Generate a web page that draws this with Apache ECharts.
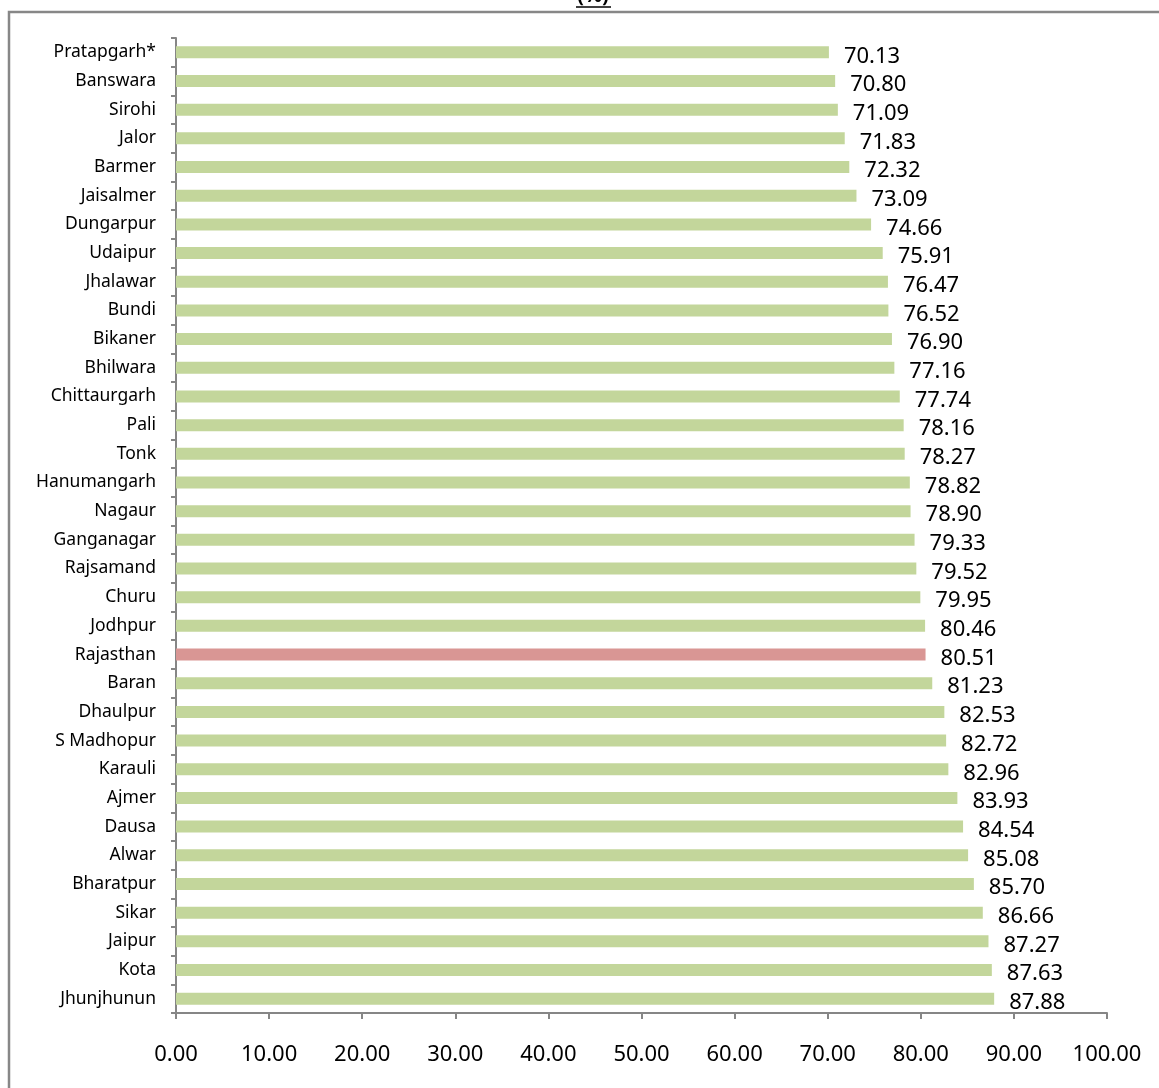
<!DOCTYPE html>
<html><head><meta charset="utf-8">
<script src="https://cdn.jsdelivr.net/npm/echarts@6/dist/echarts.min.js"></script>
<style>html,body{margin:0;padding:0;background:#fff}#c{width:1159px;height:1088px}</style>
</head><body><div id="c"></div>
<script>
const categories = ["Pratapgarh*","Banswara","Sirohi","Jalor","Barmer","Jaisalmer","Dungarpur","Udaipur","Jhalawar","Bundi","Bikaner","Bhilwara","Chittaurgarh","Pali","Tonk","Hanumangarh","Nagaur","Ganganagar","Rajsamand","Churu","Jodhpur","Rajasthan","Baran","Dhaulpur","S Madhopur","Karauli","Ajmer","Dausa","Alwar","Bharatpur","Sikar","Jaipur","Kota","Jhunjhunun"];
const values = [70.13,70.80,71.09,71.83,72.32,73.09,74.66,75.91,76.47,76.52,76.90,77.16,77.74,78.16,78.27,78.82,78.90,79.33,79.52,79.95,80.46,80.51,81.23,82.53,82.72,82.96,83.93,84.54,85.08,85.70,86.66,87.27,87.63,87.88];
const highlight = "Rajasthan";
const titleText = "(%)";

const chart = echarts.init(document.getElementById('c'));
const font = '"Noto Sans", sans-serif';
chart.setOption({
  animation: false,
  backgroundColor: '#fff',
  graphic: [
    { type: 'rect', shape: { x: 9, y: 12, width: 1170, height: 1100 }, style: { fill: 'none', stroke: '#878787', lineWidth: 2.5 } },
    { type: 'text', x: 593, y: -14, style: { text: titleText, font: 'bold 20px ' + font, fill: '#000', align: 'center' } },
    { type: 'line', shape: { x1: 576, y1: 7, x2: 611, y2: 7 }, style: { stroke: '#000', lineWidth: 1.5 } }
  ],
  grid: { left: 176, top: 38, right: 52, bottom: 75, containLabel: false },
  xAxis: {
    type: 'value', min: 0, max: 100, interval: 10,
    axisLine: { show: true, lineStyle: { color: '#868686', width: 2 } },
    axisTick: { show: true, length: 6, lineStyle: { color: '#868686', width: 2 } },
    splitLine: { show: false },
    axisLabel: { formatter: v => v.toFixed(2), fontFamily: font, fontSize: 22, color: '#000', margin: 31 }
  },
  yAxis: {
    type: 'category', data: categories, inverse: true,
    axisLine: { show: true, lineStyle: { color: '#868686', width: 2 } },
    axisTick: { show: true, length: 5, lineStyle: { color: '#868686', width: 2 } },
    axisLabel: { fontFamily: font, fontSize: 17.5, color: '#000', margin: 20, interval: 0 }
  },
  series: [{
    type: 'bar', barWidth: 12,
    data: values.map((v, i) => ({ value: v, itemStyle: { color: categories[i] === highlight ? '#d99694' : '#c3d69b' } })),
    label: { show: true, position: 'right', distance: 15, offset: [0, 4], formatter: p => p.value.toFixed(2), fontFamily: font, fontSize: 22, color: '#000' }
  }]
});
</script></body></html>
